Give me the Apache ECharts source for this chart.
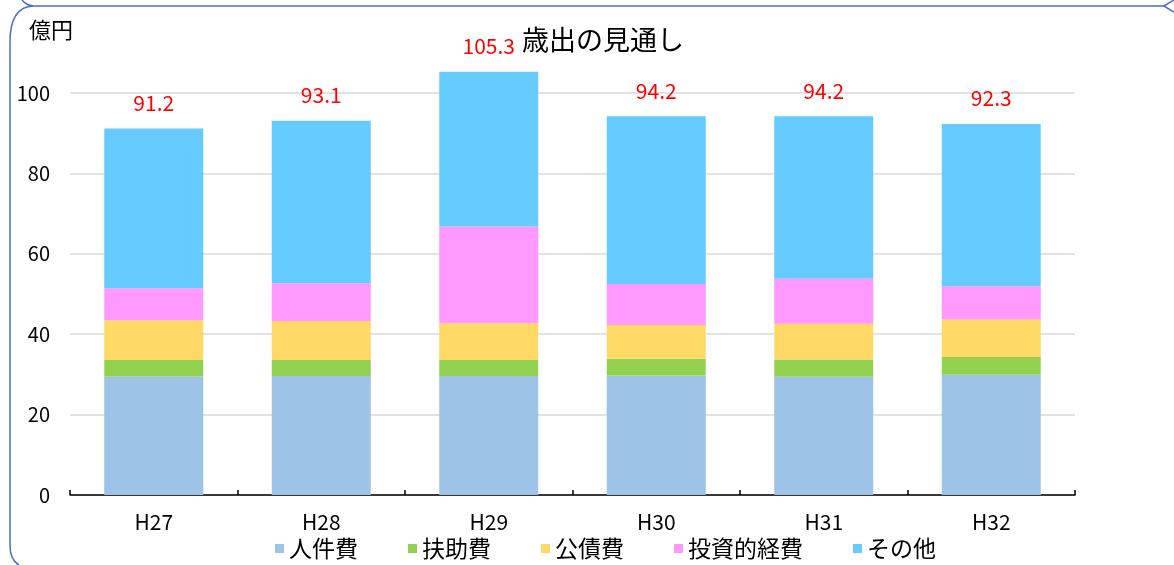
<!DOCTYPE html>
<html>
<head>
<meta charset="utf-8">
<script src="https://cdn.jsdelivr.net/npm/echarts@6/dist/echarts.min.js"></script>
<style>
html,body{margin:0;padding:0;background:#fff;}
#c{width:1174px;height:565px;}
</style>
</head>
<body>
<div id="c"></div>
<script>
const categories = ['H27', 'H28', 'H29', 'H30', 'H31', 'H32'];
const seriesNames = ['人件費', '扶助費', '公債費', '投資的経費', 'その他'];
const personnel = [29.5, 29.6, 29.6, 29.7, 29.4, 29.9];
const assistance = [4.1, 4.0, 4.0, 4.2, 4.3, 4.4];
const debt = [9.9, 9.7, 9.1, 8.4, 8.9, 9.4];
const investment = [7.9, 9.4, 24.1, 10.2, 11.2, 8.2];
const others = [39.8, 40.4, 38.5, 41.7, 40.4, 40.4];
const totals = [91.2, 93.1, 105.3, 94.2, 94.2, 92.3];
const yTicks = [0, 20, 40, 60, 80, 100];

const colors = ['#9DC3E6', '#92D050', '#FFD966', '#FF99FF', '#66CCFF'];
const FONT = '"Noto Sans CJK JP", "Noto Sans", sans-serif';
const values = [personnel, assistance, debt, investment, others];

const chart = echarts.init(document.getElementById('c'), null, {renderer: 'canvas'});

const series = values.map((d, i) => {
  const s = {
    name: seriesNames[i],
    type: 'bar',
    stack: 'total',
    data: d,
    barWidth: 99,
    clip: false,
    itemStyle: {color: colors[i]},
    emphasis: {disabled: true}
  };
  if (i === values.length - 1) {
    s.label = {
      show: true,
      position: 'top',
      distance: 15,
      color: '#FF0000',
      fontSize: 21,
      fontFamily: FONT,
      formatter: p => totals[p.dataIndex].toFixed(1)
    };
  }
  return s;
});

const frameStyle = {fill: null, stroke: '#4A6EC2', lineWidth: 1.5};

chart.setOption({
  animation: false,
  backgroundColor: '#ffffff',
  color: colors,
  textStyle: {fontFamily: FONT},
  grid: {left: 70, right: 99, top: 93, bottom: 70, containLabel: false},
  legend: {
    data: seriesNames,
    left: 270,
    top: 532,
    icon: 'rect',
    itemWidth: 9,
    itemHeight: 9,
    itemGap: 50,
    textStyle: {fontSize: 23, color: '#000', fontFamily: FONT}
  },
  xAxis: {
    type: 'category',
    data: categories,
    axisLine: {show: true, lineStyle: {color: '#000', width: 1.5}},
    axisTick: {show: true, inside: true, length: 5, lineStyle: {color: '#000', width: 1.5}},
    axisLabel: {color: '#000', fontSize: 21, margin: 17, fontFamily: FONT},
    splitLine: {show: false}
  },
  yAxis: {
    type: 'value',
    min: yTicks[0],
    max: yTicks[yTicks.length - 1],
    interval: 20,
    axisLine: {show: false},
    axisTick: {show: false},
    axisLabel: {color: '#000', fontSize: 20, margin: 20, fontFamily: FONT},
    splitLine: {show: true, lineStyle: {color: '#D9D9D9', width: 1.5}}
  },
  series: series,
  graphic: [
    {
      type: 'text', x: 522, y: 26,
      style: {text: '歳出の見通し', fontSize: 27, fill: '#000', fontFamily: FONT}
    },
    {
      type: 'text', x: 29, y: 19,
      style: {text: '億円', fontSize: 22, fill: '#000', fontFamily: FONT}
    },
    {type: 'polyline', shape: {points: [[10, 545], [10, 42]]}, style: frameStyle},
    {type: 'bezierCurve', shape: {x1: 10, y1: 42, cpx1: 10, cpy1: 7, x2: 33, y2: 6}, style: frameStyle},
    {type: 'bezierCurve', shape: {x1: 10, y1: 545, cpx1: 10, cpy1: 560, x2: 19, y2: 565}, style: frameStyle},
    {type: 'polyline', shape: {points: [[33, 6], [1164, 6], [1174, 12]]}, style: frameStyle},
    {type: 'polyline', shape: {points: [[1164, 6], [1174, 0]]}, style: frameStyle},
    {type: 'bezierCurve', shape: {x1: 22, y1: 0, cpx1: 26, cpy1: 5, x2: 33, y2: 6}, style: frameStyle}
  ]
});
</script>
</body>
</html>
